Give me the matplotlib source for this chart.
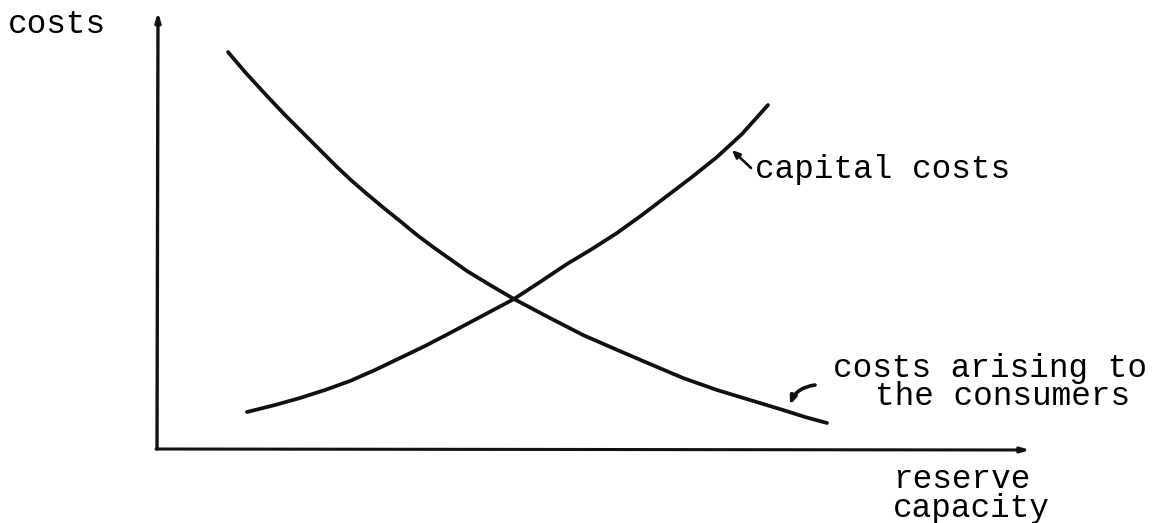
import matplotlib
matplotlib.use("Agg")
import matplotlib.pyplot as plt

# Curve readings (x = reserve capacity, y = costs), arbitrary units
consumer_x = [0.71, 0.88, 1.10, 1.28, 1.43, 1.63, 1.80, 1.95, 2.10, 2.28, 2.43, 2.60, 2.76, 2.93,
              3.10, 3.33, 3.57, 3.91, 4.26, 4.58, 4.93, 5.26, 5.60, 5.93, 6.26, 6.48, 6.70]
consumer_y = [3.97, 3.77, 3.53, 3.34, 3.19, 2.99, 2.82, 2.68, 2.55, 2.40, 2.28, 2.14, 2.02, 1.90,
              1.78, 1.64, 1.50, 1.32, 1.14, 1.00, 0.85, 0.71, 0.59, 0.49, 0.39, 0.32, 0.26]

capital_x = [0.90, 1.18, 1.43, 1.68, 1.93, 2.18, 2.43, 2.68, 2.93, 3.25, 3.57, 3.83, 4.10, 4.35,
             4.60, 4.85, 5.10, 5.35, 5.60, 5.85, 6.11]
capital_y = [0.37, 0.44, 0.51, 0.59, 0.68, 0.79, 0.91, 1.03, 1.16, 1.33, 1.50, 1.67, 1.85, 2.00,
             2.16, 2.34, 2.53, 2.72, 2.92, 3.15, 3.44]

x_axis_end = 8.73
y_axis_end = 4.37

fig = plt.figure(figsize=(11.61, 5.23), dpi=100)
ax = fig.add_axes([0, 0, 1, 1])
ax.set_xlim(-1.57, 10.04)
ax.set_ylim(-0.74, 4.49)
ax.axis("off")

font = dict(family="Liberation Mono", fontsize=23.5, color="black")
ink = "#111111"

# axes with arrows
ax.annotate("", xy=(0.01, y_axis_end), xytext=(0, 0),
            arrowprops=dict(arrowstyle="-|>,head_length=0.5,head_width=0.15",
                            lw=2.4, color=ink, shrinkA=0, shrinkB=0))
ax.annotate("", xy=(x_axis_end, -0.01), xytext=(-0.01, 0),
            arrowprops=dict(arrowstyle="-|>,head_length=0.5,head_width=0.15",
                            lw=2.2, color=ink, shrinkA=0, shrinkB=0))

# curves
ax.plot(consumer_x, consumer_y, color=ink, lw=2.7, solid_capstyle="round", solid_joinstyle="round")
ax.plot(capital_x, capital_y, color=ink, lw=2.7, solid_capstyle="round", solid_joinstyle="round")

# labels
ax.text(-1.49, 4.16, "costs", ha="left", va="baseline", **font)
ax.text(5.98, 2.71, "capital costs", ha="left", va="baseline", **font)
ax.text(6.76, 0.72, "costs arising to", ha="left", va="baseline", **font)
ax.text(7.18, 0.44, "the consumers", ha="left", va="baseline", **font)
ax.text(7.36, -0.39, "reserve", ha="left", va="baseline", **font)
ax.text(7.36, -0.68, "capacity", ha="left", va="baseline", **font)

# pointer arrows
ax.annotate("", xy=(5.75, 2.99), xytext=(5.94, 2.81),
            arrowprops=dict(arrowstyle="-|>,head_length=0.45,head_width=0.2",
                            lw=1.9, color=ink, shrinkA=0, shrinkB=0))
ax.annotate("", xy=(6.33, 0.44), xytext=(6.58, 0.64),
            arrowprops=dict(arrowstyle="-|>,head_length=0.45,head_width=0.18",
                            lw=2.6, color=ink, shrinkA=0, shrinkB=0,
                            connectionstyle="arc3,rad=0.3"))

fig.savefig("out.png", dpi=100, facecolor="white")
